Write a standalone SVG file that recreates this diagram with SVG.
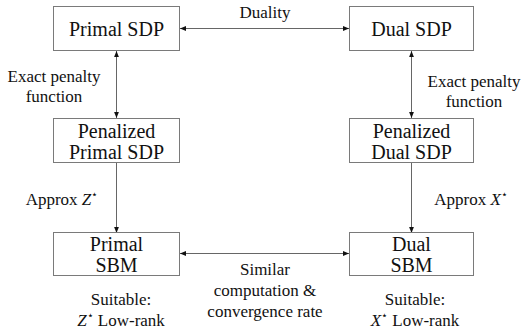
<svg xmlns="http://www.w3.org/2000/svg" width="523" height="330" viewBox="0 0 523 330">
  <style>
    .box { fill: #ffffff; stroke: #7a7a7a; stroke-width: 1; }
    .node { font-size: 20px; fill: #111; text-anchor: middle; }
    .lbl { font-size: 17px; fill: #111; text-anchor: middle; }
    .it { font-style: italic; }
    .edge { stroke: #666; stroke-width: 1; fill: none; }
  </style>
  <defs>
    <marker id="arr" viewBox="0 0 6 6" refX="6" refY="3" markerWidth="6" markerHeight="6" orient="auto-start-reverse" markerUnits="userSpaceOnUse">
      <path d="M0,0.6 L6,3 L0,5.4 Z" fill="#111"/>
    </marker>
  </defs>
  <rect width="523" height="330" fill="#ffffff"/>

  <g id="connectors">
    <line class="edge" x1="180" y1="28.5" x2="349" y2="28.5" marker-start="url(#arr)" marker-end="url(#arr)"/>
    <line class="edge" x1="116.5" y1="51" x2="116.5" y2="118" marker-start="url(#arr)" marker-end="url(#arr)"/>
    <line class="edge" x1="411.5" y1="51" x2="411.5" y2="118" marker-start="url(#arr)" marker-end="url(#arr)"/>
    <line class="edge" x1="116.5" y1="163" x2="116.5" y2="233" marker-end="url(#arr)"/>
    <line class="edge" x1="411.5" y1="163" x2="411.5" y2="233" marker-end="url(#arr)"/>
    <line class="edge" x1="180" y1="253.5" x2="349" y2="253.5" marker-start="url(#arr)" marker-end="url(#arr)"/>
  </g>

  <g font-family="'Liberation Serif', Tinos, 'Times New Roman', Times, 'DejaVu Serif', serif">
  <g id="primal-sdp">
    <rect class="box" x="53.5" y="6.5" width="126" height="44"/>
    <text class="node" x="116.5" y="36">Primal SDP</text>
  </g>
  <g id="dual-sdp">
    <rect class="box" x="349.5" y="6.5" width="124" height="44"/>
    <text class="node" x="411.5" y="36">Dual SDP</text>
  </g>
  <g id="penalized-primal-sdp">
    <rect class="box" x="53.5" y="118.5" width="126" height="44"/>
    <text class="node" x="116.5" y="138">Penalized</text>
    <text class="node" x="116.5" y="159">Primal SDP</text>
  </g>
  <g id="penalized-dual-sdp">
    <rect class="box" x="349.5" y="118.5" width="124" height="44"/>
    <text class="node" x="411.5" y="138">Penalized</text>
    <text class="node" x="411.5" y="159">Dual SDP</text>
  </g>
  <g id="primal-sbm">
    <rect class="box" x="53.5" y="232.5" width="126" height="43"/>
    <text class="node" x="116.5" y="251">Primal</text>
    <text class="node" x="116.5" y="272">SBM</text>
  </g>
  <g id="dual-sbm">
    <rect class="box" x="349.5" y="232.5" width="124" height="43"/>
    <text class="node" x="411.5" y="251">Dual</text>
    <text class="node" x="411.5" y="272">SBM</text>
  </g>

  <g id="labels">
    <text class="lbl" x="265" y="18">Duality</text>
    <text class="lbl" x="54" y="82">Exact penalty</text>
    <text class="lbl" x="54" y="102">function</text>
    <text class="lbl" x="474" y="87">Exact penalty</text>
    <text class="lbl" x="474" y="107">function</text>
    <text class="lbl" x="62" y="205">Approx <tspan class="it">Z</tspan><tspan font-size="11" dy="-7">⋆</tspan></text>
    <text class="lbl" x="471" y="205">Approx <tspan class="it">X</tspan><tspan font-size="11" dy="-7">⋆</tspan></text>
    <text class="lbl" x="265" y="275">Similar</text>
    <text class="lbl" x="265" y="296">computation &amp;</text>
    <text class="lbl" x="265" y="317">convergence rate</text>
    <text class="lbl" x="121" y="305">Suitable:</text>
    <text class="lbl" x="121" y="326"><tspan class="it">Z</tspan><tspan font-size="11" dy="-7">⋆</tspan><tspan dy="7"> Low-rank</tspan></text>
    <text class="lbl" x="415" y="305">Suitable:</text>
    <text class="lbl" x="415" y="326"><tspan class="it">X</tspan><tspan font-size="11" dy="-7">⋆</tspan><tspan dy="7"> Low-rank</tspan></text>
  </g>
  </g>
</svg>
